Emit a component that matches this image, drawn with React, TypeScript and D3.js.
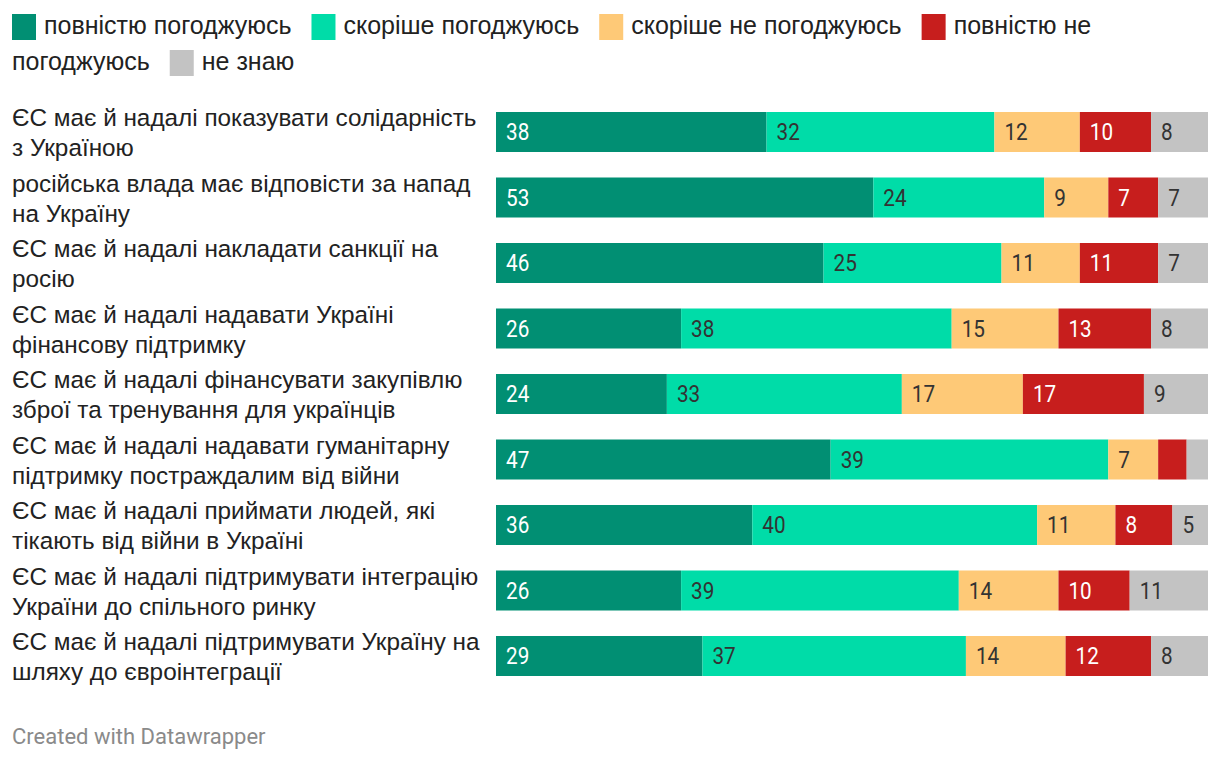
import React, { useEffect, useRef } from "react";
import * as d3 from "d3";

const categories = [
  "ЄС має й надалі показувати солідарність\nз Україною",
  "російська влада має відповісти за напад\nна Україну",
  "ЄС має й надалі накладати санкції на\nросію",
  "ЄС має й надалі надавати Україні\nфінансову підтримку",
  "ЄС має й надалі фінансувати закупівлю\nзброї та тренування для українців",
  "ЄС має й надалі надавати гуманітарну\nпідтримку постраждалим від війни",
  "ЄС має й надалі приймати людей, які\nтікають від війни в Україні",
  "ЄС має й надалі підтримувати інтеграцію\nУкраїни до спільного ринку",
  "ЄС має й надалі підтримувати Україну на\nшляху до євроінтеграції",
];

const seriesNames = [
  "повністю погоджуюсь",
  "скоріше погоджуюсь",
  "скоріше не погоджуюсь",
  "повністю не погоджуюсь",
  "не знаю",
];

const fullyAgree = [38, 53, 46, 26, 24, 47, 36, 26, 29];
const ratherAgree = [32, 24, 25, 38, 33, 39, 40, 39, 37];
const ratherDisagree = [12, 9, 11, 15, 17, 7, 11, 14, 14];
const fullyDisagree = [10, 7, 11, 13, 17, 4, 8, 10, 12];
const dontKnow = [8, 7, 7, 8, 9, 3, 5, 11, 8];

const colors = ["#018f73", "#00dca8", "#fec977", "#c71e1d", "#c3c3c3"];
const labelColors = ["#ffffff", "#333333", "#333333", "#ffffff", "#333333"];
const hiddenBelow = 5;

const W = 1220;
const H = 762;
const LABEL_FONT = "'Liberation Sans', Arial, sans-serif";
const NUM_FONT = "Roboto, 'Noto Sans', sans-serif";
const FS = 24.3;
const LFS = 25;

export default function App() {
  const ref = useRef<SVGSVGElement | null>(null);

  useEffect(() => {
    const svg = d3.select(ref.current);
    svg.selectAll("*").remove();

    const series = [fullyAgree, ratherAgree, ratherDisagree, fullyDisagree, dontKnow];
    const rows = categories.map((c, i) => {
      const o: any = { cat: c };
      series.forEach((s, k) => (o["s" + k] = s[i]));
      return o;
    });
    const keys = series.map((_, k) => "s" + k);
    const stacked = d3.stack<any>().keys(keys)(rows);

    const x = d3.scaleLinear().domain([0, 100]).range([496, 1208]);
    const y = d3
      .scaleBand<string>()
      .domain(categories)
      .range([112 - 12.75, 112 - 12.75 + 65.5 * categories.length])
      .paddingInner(25.5 / 65.5)
      .paddingOuter(0.5 * (25.5 / 65.5));

    // Legend (flowing, wrapping)
    const lg = svg.append("g");
    const maxX = 1208;
    let cx = 12;
    let lineY = 0;
    const lineH = 36;
    const baseY = 34;
    const measure = (t: string, size: number, font: string) => {
      const tmp = lg
        .append("text")
        .attr("font-family", font)
        .attr("font-size", size)
        .text(t);
      const w = (tmp.node() as SVGTextElement).getComputedTextLength();
      tmp.remove();
      return w;
    };
    const spaceW = measure("a a", LFS, LABEL_FONT) - measure("aa", LFS, LABEL_FONT);
    seriesNames.forEach((name, k) => {
      const words = name.split(" ");
      const firstW = measure(words[0], LFS, LABEL_FONT);
      if (cx + 32 + firstW > maxX) {
        cx = 12;
        lineY += 1;
      }
      lg.append("rect")
        .attr("x", cx)
        .attr("y", baseY + lineY * lineH - 20)
        .attr("width", 24)
        .attr("height", 26)
        .attr("fill", colors[k]);
      cx += 32;
      words.forEach((w, wi) => {
        const ww = measure(w, LFS, LABEL_FONT);
        if (wi > 0) {
          if (cx + spaceW + ww > maxX) {
            cx = 12;
            lineY += 1;
          } else {
            cx += spaceW;
          }
        }
        lg.append("text")
          .attr("x", cx)
          .attr("y", baseY + lineY * lineH)
          .attr("font-family", LABEL_FONT)
          .attr("font-size", LFS)
          .attr("fill", "#222")
          .text(w);
        cx += ww;
      });
      cx += 20;
    });

    // Row labels
    const labels = svg.append("g");
    categories.forEach((c) => {
      const top = y(c)!;
      const lines = c.split("\n");
      const t = labels
        .append("text")
        .attr("font-family", LABEL_FONT)
        .attr("font-size", FS)
        .attr("fill", "#222");
      lines.forEach((ln, li) => {
        t.append("tspan")
          .attr("x", 12)
          .attr("y", top + 14 + li * 30)
          .text(ln);
      });
    });

    // Bars
    const bars = svg.append("g");
    stacked.forEach((layer, k) => {
      layer.forEach((d, i) => {
        const cat = categories[i];
        bars
          .append("rect")
          .attr("x", x(d[0]))
          .attr("y", y(cat)!)
          .attr("width", x(d[1]) - x(d[0]))
          .attr("height", y.bandwidth())
          .attr("fill", colors[k]);
        const v = d[1] - d[0];
        if (v >= hiddenBelow) {
          const tx = x(d[0]) + 10;
          const ty = y(cat)! + y.bandwidth() / 2;
          bars
            .append("text")
            .attr("transform", `translate(${tx},${ty}) scale(0.9,1)`)
            .attr("dy", "0.36em")
            .attr("font-family", NUM_FONT)
            .attr("font-size", 23)
            .attr("fill", labelColors[k])
            .text(String(v));
        }
      });
    });

    // Footer
    svg
      .append("text")
      .attr("x", 12)
      .attr("y", 744)
      .attr("font-family", NUM_FONT)
      .attr("font-size", 22)
      .attr("fill", "#8a8a8a")
      .text("Created with Datawrapper");
  }, []);

  return (
    <svg
      ref={ref}
      width={W}
      height={H}
      style={{ position: "absolute", left: 0, top: 0, background: "#fff" }}
    />
  );
}
